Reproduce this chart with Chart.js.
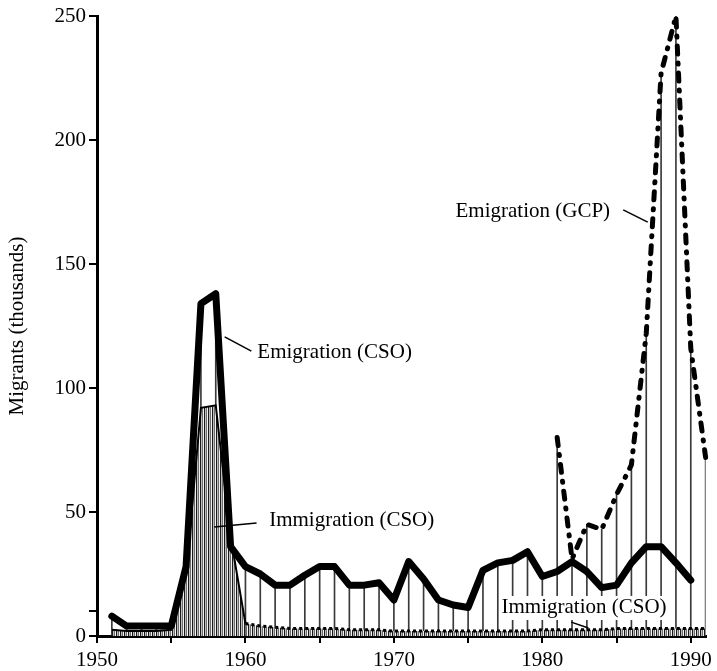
<!DOCTYPE html>
<html>
<head>
<meta charset="utf-8">
<script src="https://cdn.jsdelivr.net/npm/chart.js@4"></script>
<style>
  html, body { margin: 0; padding: 0; background: #fff; }
  #wrap { width: 717px; height: 671px; }
</style>
</head>
<body>
<div id="wrap"><canvas id="chart"></canvas></div>
<script>
// Migrants (thousands)
const years = [1951, 1952, 1953, 1954, 1955, 1956, 1957, 1958, 1959, 1960,
               1961, 1962, 1963, 1964, 1965, 1966, 1967, 1968, 1969, 1970,
               1971, 1972, 1973, 1974, 1975, 1976, 1977, 1978, 1979, 1980,
               1981, 1982, 1983, 1984, 1985, 1986, 1987, 1988, 1989, 1990, 1991];
const emigCSO = [8, 4, 4, 4, 4, 28, 134, 138, 36, 28,
                 25, 20.5, 20.5, 24.5, 28, 28, 20.5, 20.5, 21.5, 14.5,
                 30, 23, 14.5, 12.5, 11.5, 26.5, 29.5, 30.5, 34, 24,
                 26, 30, 26, 19.5, 20.5, 29.5, 36, 36, 29.5, 22.5, null];
const immigCSO = [2.5, 2, 2, 2, 2.5, 25, 92, 93, 40, 5,
                  4, 3.5, 3, 3, 3, 3, 2.5, 2.5, 2.5, 2,
                  2, 2, 2, 2, 2, 2, 2, 2, 2, 2.5,
                  2.5, 2.5, 2.5, 2.5, 3, 3, 3, 3, 3, 3, 3];
const gcpYears = [1981, 1982, 1983, 1984, 1985, 1986, 1987, 1988, 1989, 1990, 1991];
const emigGCP = [80, 31, 45, 43, 57, 69, 122, 227, 250, 116, 72];

const yTicks = [0, 10, 50, 100, 150, 200, 250];
const yLabels = ['0', '', '50', '100', '150', '200', '250'];

// text labels with leader lines, placed in data units
const notes = [
  { text: 'Emigration (CSO)', at: [1960.8, 114.5], lead: [[1958.6, 120.6], [1960.4, 114.9]] },
  { text: 'Emigration (GCP)', at: [1974.15, 171], lead: [[1985.45, 171.8], [1987.1, 166.9]] },
  { text: 'Immigration (CSO)', at: [1961.6, 46.4], lead: [[1957.9, 44], [1960.75, 45.6]] },
  { text: 'Immigration (CSO)', at: [1977.25, 11.3], lead: [[1981.95, 5.6], [1983.1, 3.2]], bg: true }
];

const byYear = (xs, vs) => xs.map((x, i) => ({ x: x, y: vs[i] }));

// drop line height per year = top of whichever curve is highest
const dropTop = years.map((yr, i) => {
  const g = gcpYears.indexOf(yr);
  return Math.max(emigCSO[i] || 0, immigCSO[i] || 0, g >= 0 ? emigGCP[g] : 0);
});

// vertical hatch for the immigration area
function hatch() {
  const c = document.createElement('canvas');
  c.width = 4; c.height = 4;
  const g = c.getContext('2d');
  const cols = ['#1a1a1a', '#bdbdbd', '#6e6e6e', '#f2f2f2'];
  cols.forEach((col, i) => { g.fillStyle = col; g.fillRect(i, 0, 1, 4); });
  return g.createPattern(c, 'repeat');
}

const notesPlugin = {
  id: 'notes',
  afterDatasetsDraw(chart) {
    const { ctx, scales: { x, y } } = chart;
    ctx.save();
    ctx.font = '21px "Liberation Serif"';
    ctx.textBaseline = 'middle';
    ctx.strokeStyle = '#000';
    ctx.lineWidth = 1.5;
    notes.forEach(n => {
      const px = x.getPixelForValue(n.at[0]), py = y.getPixelForValue(n.at[1]);
      if (n.bg) {
        const w = ctx.measureText(n.text).width;
        ctx.fillStyle = '#fff';
        ctx.fillRect(px - 2, py - 12, w + 4, 24);
      }
      ctx.fillStyle = '#000';
      ctx.fillText(n.text, px, py);
      ctx.beginPath();
      ctx.moveTo(x.getPixelForValue(n.lead[0][0]), y.getPixelForValue(n.lead[0][1]));
      ctx.lineTo(x.getPixelForValue(n.lead[1][0]), y.getPixelForValue(n.lead[1][1]));
      ctx.stroke();
    });
    ctx.restore();
  }
};

Chart.defaults.font.family = '"Liberation Serif", "Times New Roman", serif';
Chart.defaults.font.size = 21;
Chart.defaults.color = '#000';

new Chart(document.getElementById('chart'), {
  type: 'line',
  data: {
    datasets: [
      {
        label: 'Emigration (CSO)',
        data: byYear(years, emigCSO),
        borderColor: '#000', borderWidth: 7,
        borderJoinStyle: 'round', borderCapStyle: 'round',
        pointRadius: 0, tension: 0, spanGaps: false, clip: 10, order: 1
      },
      {
        label: 'Emigration (GCP)',
        data: byYear(gcpYears, emigGCP),
        borderColor: '#000', borderWidth: 5,
        borderDash: [8, 9, 1, 9], borderCapStyle: 'round', borderJoinStyle: 'round',
        pointRadius: 0, tension: 0, clip: 10, order: 2
      },
      {
        label: 'Immigration (CSO)',
        data: byYear(years, immigCSO),
        borderColor: '#000', borderWidth: 2,
        backgroundColor: hatch(), fill: 'origin',
        segment: { borderDash: c => (c.p0.parsed.x >= 1960 ? [3, 3] : undefined), borderWidth: c => (c.p0.parsed.x >= 1960 ? 3 : 2) },
        pointRadius: 0, tension: 0, clip: 10, order: 4
      },
      {
        type: 'bar',
        label: 'drop',
        data: byYear(years, dropTop),
        backgroundColor: '#3a3a3a', borderWidth: 0,
        barThickness: 1, order: 5
      }
    ]
  },
  options: {
    responsive: true,
    maintainAspectRatio: false,
    animation: false,
    layout: { padding: { top: 16, right: 9, left: 0, bottom: 0 } },
    plugins: { legend: { display: false }, tooltip: { enabled: false } },
    scales: {
      x: {
        type: 'linear', min: 1950, max: 1991, offset: false,
        grid: { display: true, drawOnChartArea: false, drawTicks: true, tickLength: 7, color: '#000', lineWidth: 2, offset: false },
        border: { display: true, color: '#000', width: 3 },
        ticks: {
          stepSize: 5, includeBounds: false, autoSkip: false, maxRotation: 0, padding: 5,
          callback: v => (v % 10 === 0 ? String(v) : '')
        },
        afterFit: s => { s.height = 35; }
      },
      y: {
        type: 'linear', min: 0, max: 250,
        grid: { display: true, drawOnChartArea: false, drawTicks: true, tickLength: 8, color: '#000', lineWidth: 2 },
        border: { display: true, color: '#000', width: 3 },
        afterBuildTicks: s => { s.ticks = yTicks.map(v => ({ value: v })); },
        ticks: {
          padding: 3,
          callback: v => { const i = yTicks.indexOf(v); return i >= 0 ? yLabels[i] : ''; }
        },
        title: { display: true, text: 'Migrants (thousands)', padding: { top: 5, bottom: 0 } },
        afterFit: s => { s.width = 97; }
      }
    }
  },
  plugins: [notesPlugin]
});
</script>
</body>
</html>
